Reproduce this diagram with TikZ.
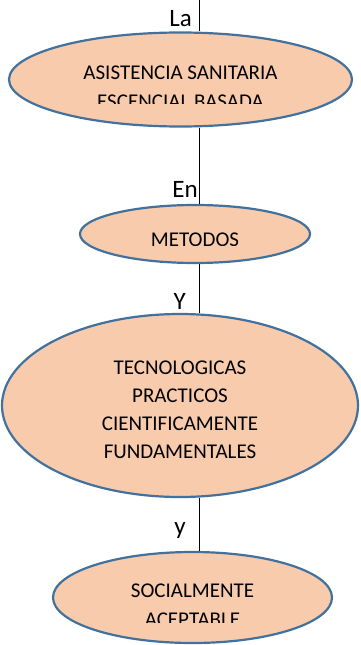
\documentclass[tikz,border=0pt]{standalone}
\usepackage{fontspec}
\setmainfont{Carlito}
\usetikzlibrary{shapes.geometric}
\definecolor{peach}{HTML}{F8CBAD}
\definecolor{rim}{HTML}{41719C}
\begin{document}
\begin{tikzpicture}[x=1pt, y=-1pt,
    bubble/.style = {ellipse, draw=rim, fill=peach, line width=2.2pt, inner sep=0pt},
    words/.style = {anchor=base, inner sep=0pt, font=\fontsize{21}{25}\selectfont},
    joint/.style = {anchor=base east, inner sep=0pt, font=\fontsize{25}{30}\selectfont}]
  \useasboundingbox (0,0) rectangle (360,645);
  % the four ellipses
  \node[bubble, minimum width=343pt, minimum height=94pt] (asis) at (180.5,79.5) {};
  \node[bubble, minimum width=230pt, minimum height=58pt] (met) at (195,234) {};
  \node[bubble, minimum width=356pt, minimum height=183pt] (tec) at (180,405.5) {};
  \node[bubble, minimum width=279pt, minimum height=91pt] (soc) at (192.5,597.5) {};
  % connectors
  \coordinate (top) at (199,0);
  \draw (top) -- (top |- asis.north);
  \draw (top |- asis.south) -- (top |- met.north);
  \draw (top |- met.south) -- (top |- tec.north);
  \draw (top |- tec.south) -- (top |- soc.north);
  % words between
  \node[joint] (la) at (192,27) {La};
  \node[joint] (en) at (198,197) {En};
  \node[joint] (yy) at (186,309) {Y};
  \node[joint] (ys) at (186,534) {y};
  % texts
  \node[words] (asis1) at (180.5,79) {ASISTENCIA SANITARIA};
  \begin{scope}
    \clip (0,0) rectangle (360,103.5);
    \node[words] (asis2) at (180.5,108) {ESCENCIAL BASADA};
  \end{scope}
  \begin{scope}
    \clip (0,0) rectangle (360,245);
    \node[words] (met1) at (195,246.5) {METODOS};
  \end{scope}
  \node[words] (tec1) at (180,374) {TECNOLOGICAS};
  \node[words] (tec2) at (180,402) {PRACTICOS};
  \node[words] (tec3) at (180,430) {CIENTIFICAMENTE};
  \node[words] (tec4) at (180,458) {FUNDAMENTALES};
  \node[words] (soc1) at (192.5,597) {SOCIALMENTE};
  \begin{scope}
    \clip (0,0) rectangle (360,622);
    \node[words] (soc2) at (192.5,626) {ACEPTABLE};
  \end{scope}
\end{tikzpicture}
\end{document}
